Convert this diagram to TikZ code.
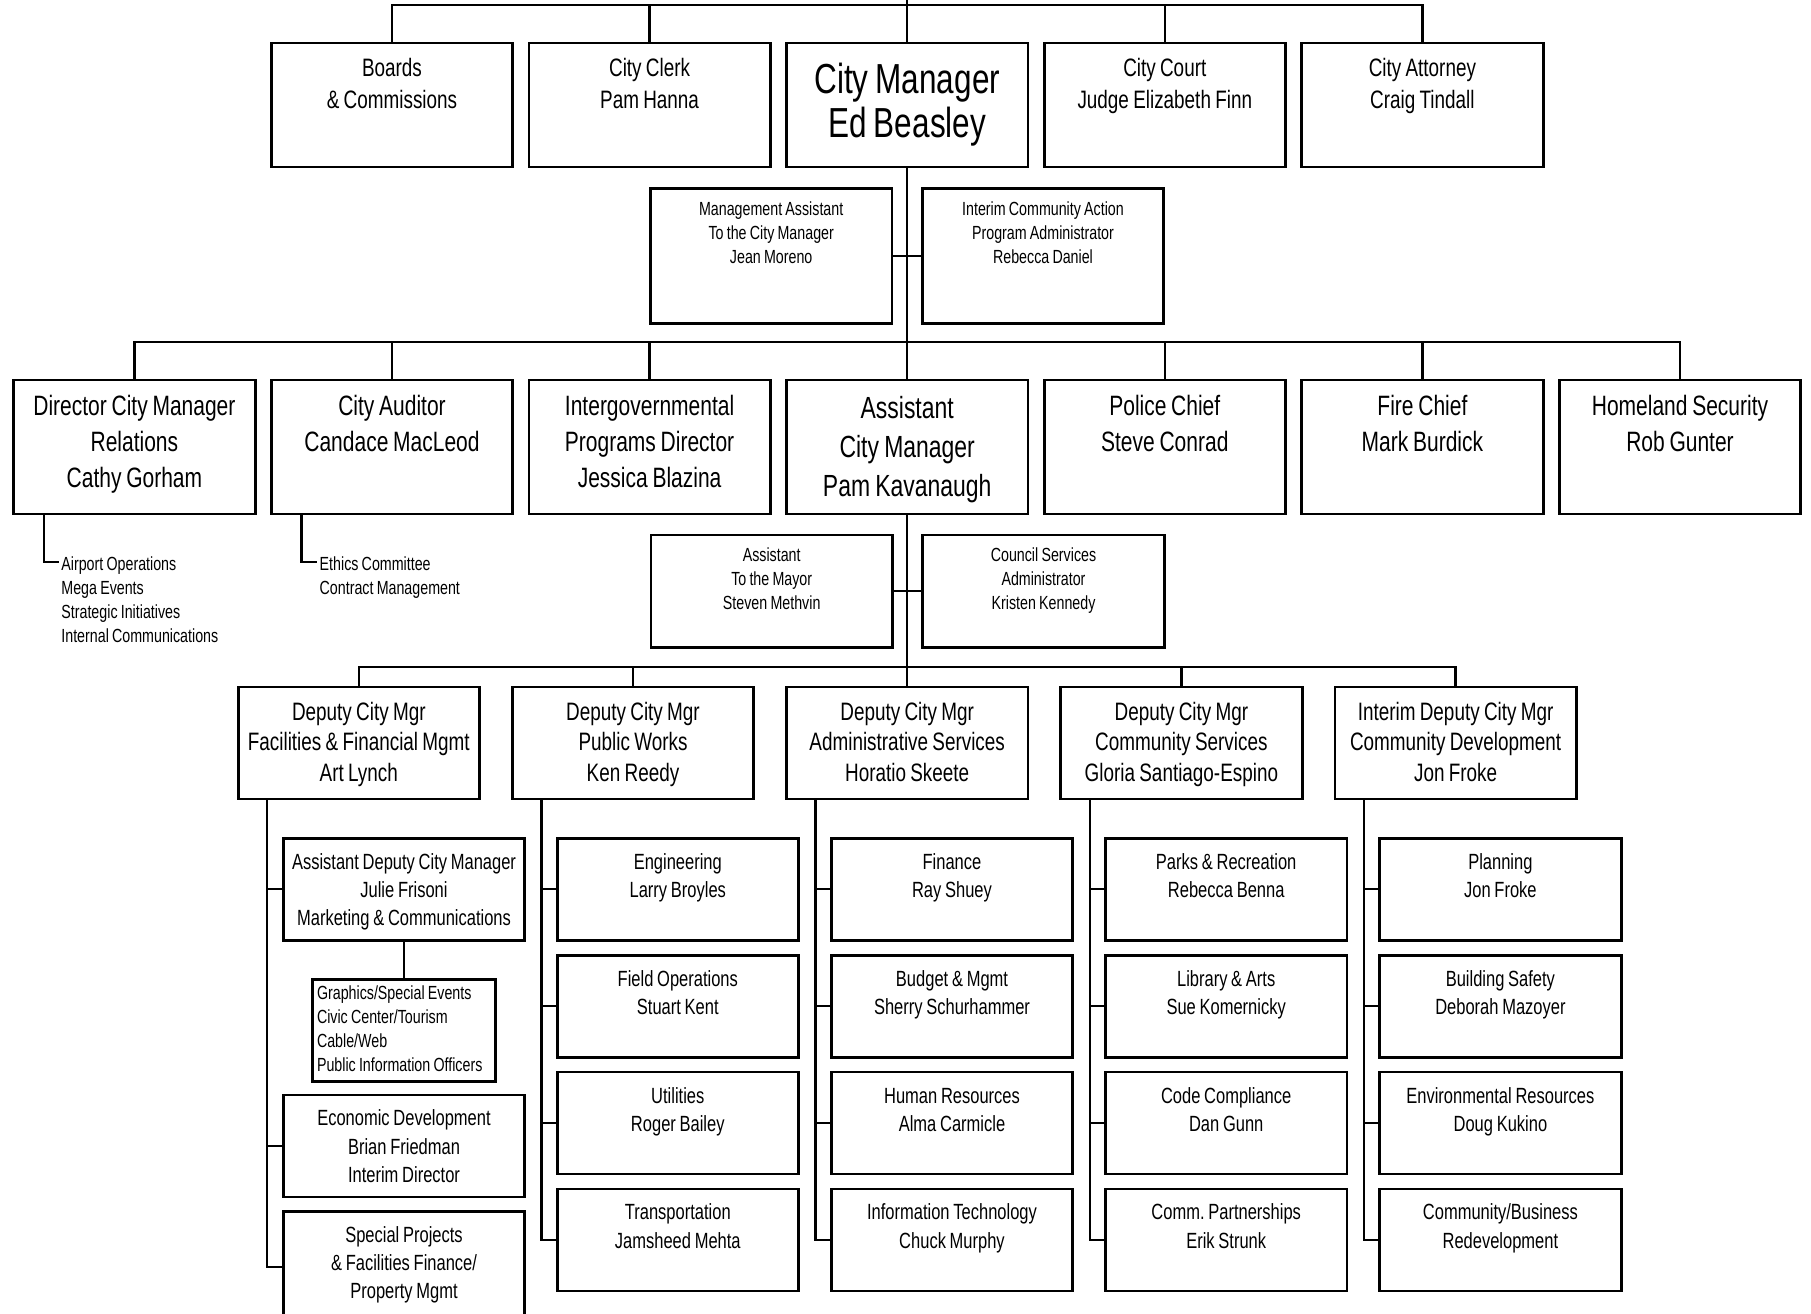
\documentclass[tikz,border=0pt]{standalone}
\usepackage{fontspec}
\setmainfont{Liberation Sans}[FakeStretch=0.75]
\frenchspacing
\usetikzlibrary{positioning}
\tikzstyle{tight} = [execute at begin node={\spaceskip=0.17em\relax}]
\tikzstyle{orgbox} = [rectangle, draw, line width=1.4pt, inner sep=0pt, outer sep=0pt, align=center, text width=120.7pt, tight]
\tikzstyle{chiefbox} = [orgbox, text height=16.5pt, text depth=45.5pt, font=\fontsize{12.6pt}{16pt}\selectfont]
\tikzstyle{mgrbox} = [orgbox, text height=25.3pt, text depth=36.7pt, font=\fontsize{21pt}{22pt}\selectfont]
\tikzstyle{staffbox} = [orgbox, text height=13.7pt, text depth=53.8pt, font=\fontsize{9.5pt}{12pt}\selectfont]
\tikzstyle{aidebox} = [orgbox, text height=13.35pt, text depth=42.9pt, font=\fontsize{9.5pt}{12pt}\selectfont]
\tikzstyle{deptbox} = [orgbox, text height=17.5pt, text depth=49.5pt, font=\fontsize{14pt}{18pt}\selectfont]
\tikzstyle{acmbox} = [orgbox, text height=19.3pt, text depth=47.7pt, font=\fontsize{15.3pt}{19.5pt}\selectfont]
\tikzstyle{deputybox} = [orgbox, text height=16.7pt, text depth=39.3pt, font=\fontsize{12.6pt}{15.2pt}\selectfont]
\tikzstyle{divbox} = [orgbox, text height=15.5pt, text depth=35.5pt, font=\fontsize{11pt}{14.1pt}\selectfont]
\tikzstyle{gfxbox} = [rectangle, draw, line width=1.4pt, inner xsep=2.4pt, inner ysep=0pt, outer sep=0pt, align=left, text width=87pt, text height=10pt, text depth=41.2pt, font=\fontsize{9.5pt}{12pt}\selectfont, tight]
\tikzstyle{listtext} = [inner sep=0pt, align=left, text width=90pt, font=\fontsize{9.5pt}{12pt}\selectfont, tight]
\tikzstyle{wire} = [line width=1.2pt]

\begin{document}
\begin{tikzpicture}[x=0.5pt, y=-0.5pt, node distance=8.1pt]
    \useasboundingbox (0,0) rectangle (1811,1313);

    % top row
    \node (cm) [mgrbox] at (907.2,105) {City Manager\\Ed Beasley};
    \node (clerk) [chiefbox, left=of cm] {City Clerk\\Pam Hanna};
    \node (boards) [chiefbox, left=of clerk] {Boards\\\& Commissions};
    \node (court) [chiefbox, right=of cm] {City Court\\Judge Elizabeth Finn};
    \node (atty) [chiefbox, right=of court] {City Attorney\\Craig Tindall};

    \node (mgmt) [staffbox] at (771.2,255.8) {Management Assistant\\To the City Manager\\Jean Moreno};
    \node (icap) [staffbox, right=15.2pt of mgmt] {Interim Community Action\\Program Administrator\\Rebecca Daniel};

    % department heads
    \node (acm) [acmbox] at (907.2,447) {Assistant\\City Manager\\Pam Kavanaugh};
    \node (igp) [deptbox, left=of acm] {Intergovernmental\\Programs Director\\Jessica Blazina};
    \node (aud) [deptbox, left=of igp] {City Auditor\\Candace MacLeod};
    \node (dcm) [deptbox, left=of aud] {Director City Manager\\Relations\\Cathy Gorham};
    \node (police) [deptbox, right=of acm] {Police Chief\\Steve Conrad};
    \node (fire) [deptbox, right=of police] {Fire Chief\\Mark Burdick};
    \node (hs) [deptbox, right=of fire] {Homeland Security\\Rob Gunter};

    \node (dcm-list) [listtext, anchor=base west] at (61,570) {Airport Operations\\Mega Events\\Strategic Initiatives\\Internal Communications};
    \node (aud-list) [listtext, anchor=base west] at (319.3,570) {Ethics Committee\\Contract Management};

    \node (mayor) [aidebox] at (771.7,591.2) {Assistant\\To the Mayor\\Steven Methvin};
    \node (council) [aidebox, right=15.2pt of mayor] {Council Services\\Administrator\\Kristen Kennedy};

    % deputies
    \node (adm) [deputybox] at (907.2,743) {Deputy City Mgr\\Administrative Services\\Horatio Skeete};
    \node (pw) [deputybox, left=16.4pt of adm] {Deputy City Mgr\\Public Works\\Ken Reedy};
    \node (ffm) [deputybox, left=16.4pt of pw] {Deputy City Mgr\\Facilities \& Financial Mgmt\\Art Lynch};
    \node (csv) [deputybox, right=16.4pt of adm] {Deputy City Mgr\\Community Services\\Gloria Santiago-Espino};
    \node (cdv) [deputybox, right=16.4pt of csv] {Interim Deputy City Mgr\\Community Development\\Jon Froke};

    % divisions
    \node (adcm) [divbox, below=19.6pt of ffm, xshift=22.6pt] {Assistant Deputy City Manager\\Julie Frisoni\\Marketing \& Communications};
    \node (gfx) [gfxbox, below=19.5pt of adcm] {Graphics/Special Events\\Civic Center/Tourism\\Cable/Web\\Public Information Officers};
    \node (econ) [divbox, below=6.65pt of gfx] {Economic Development\\Brian Friedman\\Interim Director};
    \node (spec) [divbox, text depth=40pt, below=7.3pt of econ] {Special Projects\\\& Facilities Finance/\\Property Mgmt};

    \node (eng) [divbox, below=19.6pt of pw, xshift=22.4pt] {Engineering\\Larry Broyles};
    \node (field) [divbox, below=7.45pt of eng] {Field Operations\\Stuart Kent};
    \node (util) [divbox, below=7.45pt of field] {Utilities\\Roger Bailey};
    \node (trans) [divbox, below=7.45pt of util] {Transportation\\Jamsheed Mehta};

    \node (fin) [divbox, below=19.6pt of adm, xshift=22.4pt] {Finance\\Ray Shuey};
    \node (budget) [divbox, below=7.45pt of fin] {Budget \& Mgmt\\Sherry Schurhammer};
    \node (hr) [divbox, below=7.45pt of budget] {Human Resources\\Alma Carmicle};
    \node (it) [divbox, below=7.45pt of hr] {Information Technology\\Chuck Murphy};

    \node (parks) [divbox, below=19.6pt of csv, xshift=22.4pt] {Parks \& Recreation\\Rebecca Benna};
    \node (lib) [divbox, below=7.45pt of parks] {Library \& Arts\\Sue Komernicky};
    \node (code) [divbox, below=7.45pt of lib] {Code Compliance\\Dan Gunn};
    \node (comm) [divbox, below=7.45pt of code] {Comm. Partnerships\\Erik Strunk};

    \node (plan) [divbox, below=19.6pt of cdv, xshift=22.4pt] {Planning\\Jon Froke};
    \node (bsafe) [divbox, below=7.45pt of plan] {Building Safety\\Deborah Mazoyer};
    \node (env) [divbox, below=7.45pt of bsafe] {Environmental Resources\\Doug Kukino};
    \node (redev) [divbox, below=7.45pt of env] {Community/Business\\Redevelopment};

    % connectors
    \coordinate (top-in) at (907.2,-10);
    \coordinate (top-bus) at (907.2,5);
    \coordinate (mid-bus) at (907.2,342);
    \coordinate (low-bus) at (907.2,667);
    \coordinate (dcm-hook) at ([xshift=-1pt,yshift=4pt]dcm-list.base west);
    \coordinate (aud-hook) at ([xshift=-1pt,yshift=4pt]aud-list.base west);

    \draw [wire] (cm.north) -- (top-in);
    \foreach \n in {boards,clerk,court,atty}
        \draw [wire] (\n.north) |- (top-bus);
    \draw [wire] (cm) -- (acm);
    \draw [wire] (mgmt) -- (icap);
    \foreach \n in {dcm,aud,igp,police,fire,hs}
        \draw [wire] (\n.north) |- (mid-bus);
    \draw [wire] ([xshift=15pt]dcm.south west) |- (dcm-hook);
    \draw [wire] ([xshift=15pt]aud.south west) |- (aud-hook);
    \draw [wire] (acm) -- (adm);
    \draw [wire] (mayor) -- (council);
    \foreach \n in {ffm,pw,csv,cdv}
        \draw [wire] (\n.north) |- (low-bus);

    \foreach \n in {adcm,econ,spec}
        \draw [wire] ([xshift=14.5pt]ffm.south west) |- (\n.west);
    \draw [wire] (adcm) -- (gfx);
    \foreach \n in {eng,field,util,trans}
        \draw [wire] ([xshift=14.5pt]pw.south west) |- (\n.west);
    \foreach \n in {fin,budget,hr,it}
        \draw [wire] ([xshift=14.5pt]adm.south west) |- (\n.west);
    \foreach \n in {parks,lib,code,comm}
        \draw [wire] ([xshift=14.5pt]csv.south west) |- (\n.west);
    \foreach \n in {plan,bsafe,env,redev}
        \draw [wire] ([xshift=14.5pt]cdv.south west) |- (\n.west);
\end{tikzpicture}
\end{document}
